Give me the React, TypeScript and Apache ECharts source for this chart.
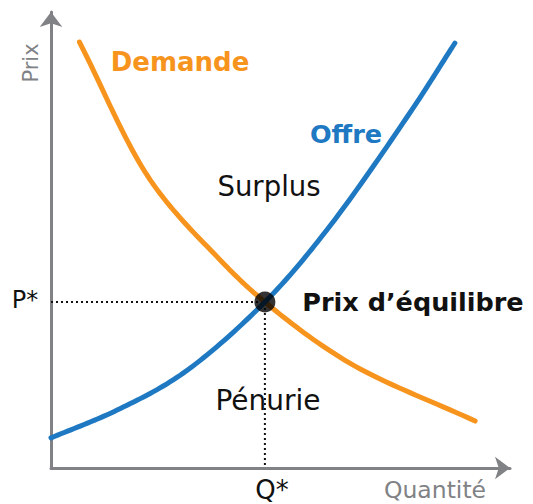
import React, { useEffect, useRef } from "react";
import * as echarts from "echarts";

const demandQ = [6.2, 21.6, 36.2, 46.6, 65.1, 92.4];
const demandP = [93.4, 63.2, 46.3, 36.4, 23.0, 10.3];
const supplyQ = [0, 14.4, 28.8, 46.6, 60.1, 78.2, 88.0];
const supplyP = [6.6, 12.7, 20.8, 36.4, 52.2, 77.9, 93.2];
const eqQ = 46.6;
const eqP = 36.4;

const GREY = "#808285";
const ORANGE = "#F7941D";
const BLUE = "#1E78C2";
const FONT = "'DejaVu Sans', sans-serif";

// centripetal Catmull-Rom through pixel points (rendering only)
function spline(pts: number[][], steps = 20): number[][] {
  const out: number[][] = [];
  const n = pts.length;
  const ext = [
    [2 * pts[0][0] - pts[1][0], 2 * pts[0][1] - pts[1][1]],
    ...pts,
    [2 * pts[n - 1][0] - pts[n - 2][0], 2 * pts[n - 1][1] - pts[n - 2][1]],
  ];
  const dist = (a: number[], b: number[]) => Math.pow(Math.hypot(b[0] - a[0], b[1] - a[1]), 0.5) || 1e-6;
  for (let i = 1; i < ext.length - 2; i++) {
    const p0 = ext[i - 1], p1 = ext[i], p2 = ext[i + 1], p3 = ext[i + 2];
    const t0 = 0, t1 = t0 + dist(p0, p1), t2 = t1 + dist(p1, p2), t3 = t2 + dist(p2, p3);
    for (let s = 0; s < steps; s++) {
      const t = t1 + ((t2 - t1) * s) / steps;
      const lerp = (a: number[], b: number[], ta: number, tb: number) => [
        ((tb - t) / (tb - ta)) * a[0] + ((t - ta) / (tb - ta)) * b[0],
        ((tb - t) / (tb - ta)) * a[1] + ((t - ta) / (tb - ta)) * b[1],
      ];
      const a1 = lerp(p0, p1, t0, t1), a2 = lerp(p1, p2, t1, t2), a3 = lerp(p2, p3, t2, t3);
      const b1 = lerp(a1, a2, t0, t2), b2 = lerp(a2, a3, t1, t3);
      out.push(lerp(b1, b2, t1, t2));
    }
  }
  out.push(pts[n - 1]);
  return out;
}

export default function App() {
  const ref = useRef<HTMLDivElement>(null);
  useEffect(() => {
    if (!ref.current) return;
    const chart = echarts.init(ref.current, null, { renderer: "svg" });
    const axisCommon = {
      type: "value" as const,
      min: 0,
      max: 100,
      splitLine: { show: false },
      axisTick: { show: false },
      axisLabel: { show: false },
      axisLine: {
        show: true,
        symbol: ["none", "arrow"],
        symbolSize: [17, 15],
        lineStyle: { color: GREY, width: 3 },
      },
    };
    const text = (x: number, y: number, s: string, size: number, weight: any, color: string, extra: any = {}) => ({
      type: "text",
      x,
      y,
      ...extra,
      style: {
        text: s,
        fontSize: size,
        fontWeight: weight,
        fill: color,
        fontFamily: FONT,
        textAlign: "center",
        textVerticalAlign: "middle",
      },
    });
    const curve = (q: number[], p: number[], color: string, z: number) => ({
      type: "custom",
      data: q.map((v, i) => [v, p[i]]),
      encode: { x: 0, y: 1 },
      z,
      renderItem: (params: any, api: any) => {
        if (params.dataIndex !== 0) return null;
        const px = q.map((v, i) => api.coord([v, p[i]]));
        return {
          type: "polyline",
          shape: { points: spline(px) },
          style: { stroke: color, lineWidth: 5, fill: "none", lineCap: "round", lineJoin: "round" },
        };
      },
    });
    chart.setOption({
      animation: false,
      grid: { left: 51, right: 23, top: 12, bottom: 36 },
      xAxis: axisCommon,
      yAxis: axisCommon,
      series: [
        {
          type: "line",
          data: [[0, eqP], [eqQ, eqP], [eqQ, 0]],
          symbol: "none",
          lineStyle: { color: "#111", width: 2, type: [2, 3] },
          z: 1,
        },
        curve(demandQ, demandP, ORANGE, 2),
        curve(supplyQ, supplyP, BLUE, 3),
        {
          type: "scatter",
          data: [[eqQ, eqP]],
          symbolSize: 21,
          itemStyle: { color: "#000" },
          z: 4,
        },
      ],
      graphic: [
        text(31, 63, "Prix", 21, "normal", GREY, { rotation: Math.PI / 2 }),
        text(180, 62, "Demande", 26, "bold", ORANGE),
        text(346, 134, "Offre", 25.5, "bold", BLUE),
        text(269, 186, "Surplus", 27.5, "normal", "#111"),
        text(25, 300, "P*", 24, "normal", "#111"),
        text(413, 302, "Prix d\u2019équilibre", 25.5, "bold", "#111"),
        text(268, 400, "Pénurie", 28, "normal", "#111"),
        text(272, 490, "Q*", 26, "normal", "#111"),
        text(435, 490, "Quantité", 23.5, "normal", GREY),
      ],
    });
    return () => chart.dispose();
  }, []);
  return <div ref={ref} style={{ width: 533, height: 504, position: "absolute", left: 0, top: 0 }} />;
}
